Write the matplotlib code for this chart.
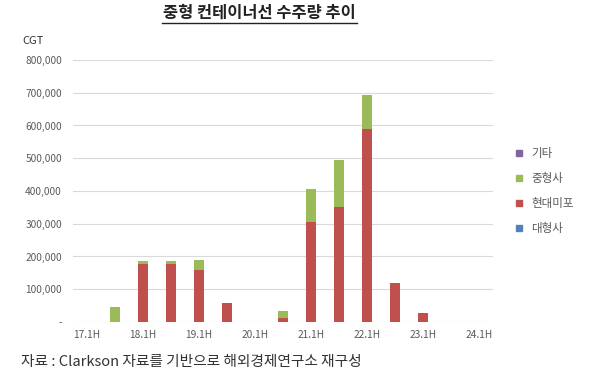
import numpy as np
import matplotlib.pyplot as plt
from matplotlib.lines import Line2D

plt.rcParams['font.family'] = ['Noto Sans CJK KR', 'DejaVu Sans']

# ===== 데이터 (CGT) =====
periods = ['17.1H', '17.2H', '18.1H', '18.2H', '19.1H', '19.2H', '20.1H', '20.2H',
           '21.1H', '21.2H', '22.1H', '22.2H', '23.1H', '23.2H', '24.1H']
large = [0] * 15          # 대형사
hmipo = [0, 0, 177000, 177000, 159000, 57000, 0, 12000,
         305000, 350000, 588000, 118000, 27000, 0, 0]   # 현대미포
mid = [0, 47000, 9000, 9000, 30000, 0, 0, 21000,
       101000, 145000, 104000, 0, 0, 0, 0]              # 중형사
etc = [0] * 15            # 기타

series_names = ['대형사', '현대미포', '중형사', '기타']
colors = ['#4F81BD', '#C0504D', '#9BBB59', '#8064A2']
yticks = [0, 100000, 200000, 300000, 400000, 500000, 600000, 700000, 800000]

# ===== 그림 =====
fig = plt.figure(figsize=(6, 3.86), dpi=100)
ax = fig.add_axes([0.1217, 0.1658, 0.70, 0.6788])

x = np.arange(len(periods))
bottom = np.zeros(len(periods))
for vals, c in zip([large, hmipo, mid, etc], colors):
    ax.bar(x, vals, bottom=bottom, width=0.37, color=c, zorder=3)
    bottom += np.array(vals)

ax.set_xlim(-0.5, len(periods) - 0.5)
ax.set_ylim(0, 800000)
ax.set_yticks(yticks)
ax.set_yticklabels(['-'] + [f'{v:,}' for v in yticks[1:]])
ax.set_xticks(x[::2])
ax.set_xticklabels(periods[::2])
ax.tick_params(length=0, colors='#595959', labelsize=7.3)
ax.tick_params(axis='y', pad=8)
ax.tick_params(axis='x', pad=6)
ax.grid(axis='y', color='#D9D9D9', linewidth=0.8, zorder=0)
for s in ax.spines.values():
    s.set_visible(False)

# 범례 (위에서부터 기타, 중형사, 현대미포, 대형사)
handles = [Line2D([], [], marker='s', linestyle='none', markersize=5, color=c)
           for c in colors[::-1]]
ax.legend(handles, series_names[::-1], loc='center left', bbox_to_anchor=(1.02, 0.5),
          frameon=False, labelcolor='#595959', fontsize=8.3, handletextpad=0.1,
          labelspacing=1.05, borderpad=0)

fig.text(0.432, 0.966, '중형 컨테이너선 수주량 추이', ha='center', va='center',
         fontsize=11.8, fontweight='bold', color='#222222')
fig.add_artist(Line2D([0.27, 0.595], [0.94, 0.94], color='#222222', linewidth=1))
fig.text(0.037, 0.893, 'CGT', ha='left', va='center', fontsize=8, color='#333333')
fig.text(0.035, 0.062, '자료 : Clarkson 자료를 기반으로 해외경제연구소 재구성',
         ha='left', va='center', fontsize=10.6, color='#333333')

fig.savefig('out.png', dpi=100)
